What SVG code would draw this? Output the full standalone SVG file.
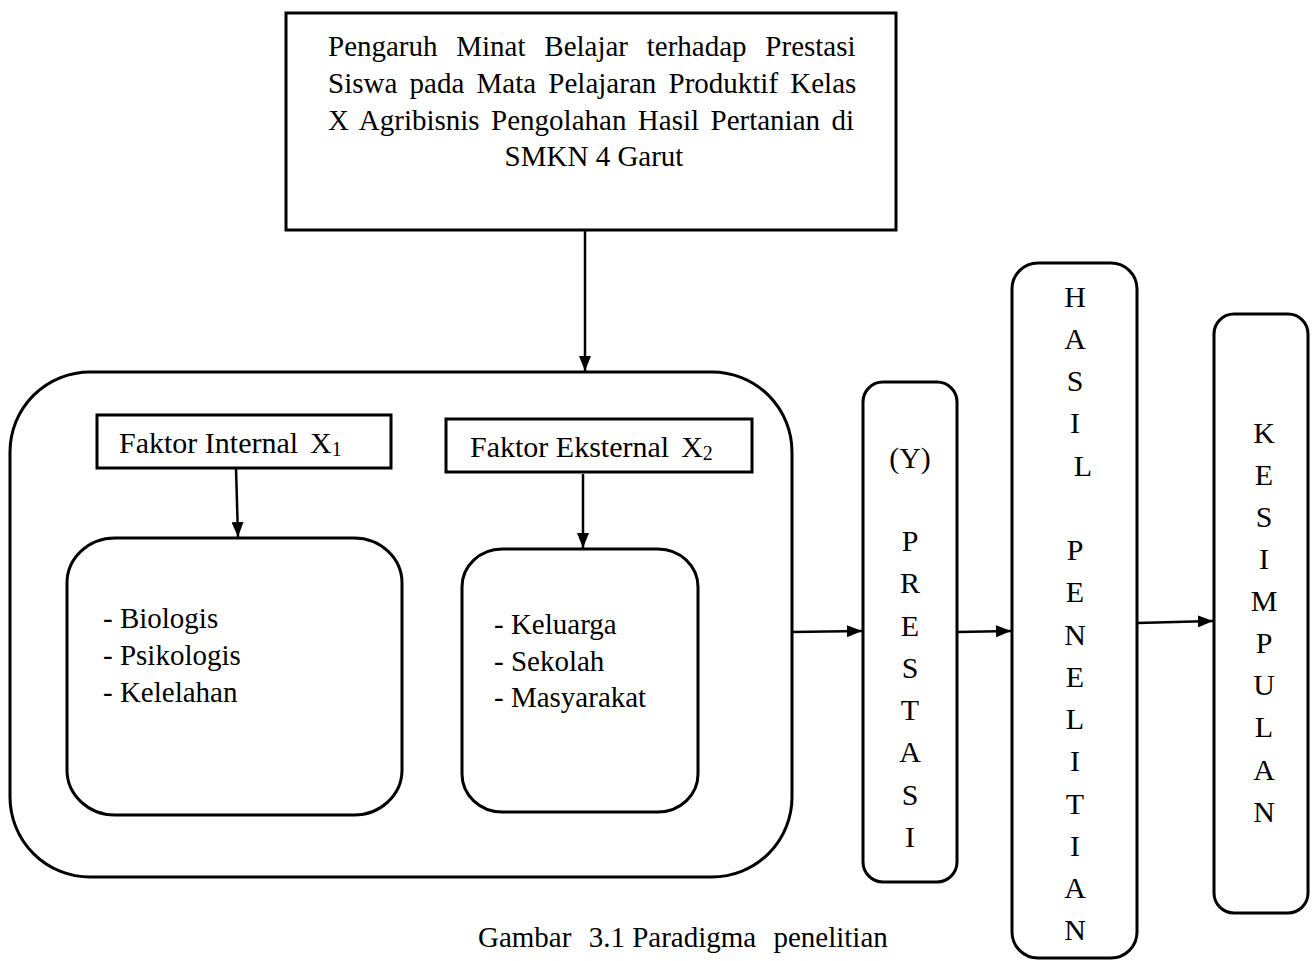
<svg xmlns="http://www.w3.org/2000/svg" width="1312" height="961" viewBox="0 0 1312 961">
<style>
.box{fill:#fff;stroke:#000;stroke-width:3}
.t{font-family:"Liberation Serif","Times New Roman",serif;font-size:29px;fill:#000}
.lbl{font-family:"Liberation Serif","Times New Roman",serif;font-size:30px;fill:#000}
.col{font-family:"Liberation Serif","Times New Roman",serif;font-size:30px;fill:#000;text-anchor:middle}
.conn{stroke:#000;stroke-width:2.5;fill:none;marker-end:url(#ah)}
</style>
<defs>
<marker id="ah" viewBox="0 0 15 12" refX="15" refY="6" markerWidth="15" markerHeight="12" markerUnits="userSpaceOnUse" orient="auto">
<path d="M0,0 L15,6 L0,12 z" fill="#000"/>
</marker>
</defs>
<rect width="1312" height="961" fill="#fff"/>

<g id="judul">
<rect class="box" x="286" y="13" width="610" height="217"/>
<text class="t" x="328" y="56" word-spacing="11.5">Pengaruh Minat Belajar terhadap Prestasi</text>
<text class="t" x="328" y="93" word-spacing="5">Siswa pada Mata Pelajaran Produktif Kelas</text>
<text class="t" x="328" y="130" word-spacing="4.2">X Agribisnis Pengolahan Hasil Pertanian di</text>
<text class="t" x="594" y="166" text-anchor="middle">SMKN 4 Garut</text>
</g>

<g id="variabel-x">
<rect class="box" x="10" y="372" width="782" height="505" rx="80" ry="80"/>
</g>

<g id="faktor-internal">
<rect class="box" x="97" y="415" width="294" height="53"/>
<text class="lbl" x="119" y="453">Faktor Internal<tspan dx="12">X</tspan><tspan font-size="20" dy="3">1</tspan></text>
</g>

<g id="faktor-eksternal">
<rect class="box" x="446" y="419" width="306" height="53"/>
<text class="lbl" x="470" y="457">Faktor Eksternal<tspan dx="12">X</tspan><tspan font-size="20" dy="3">2</tspan></text>
</g>

<g id="indikator-internal">
<rect class="box" x="67" y="538" width="335" height="277" rx="48" ry="45"/>
<text class="t" x="103" y="628">- Biologis</text>
<text class="t" x="103" y="665">- Psikologis</text>
<text class="t" x="103" y="702">- Kelelahan</text>
</g>

<g id="indikator-eksternal">
<rect class="box" x="462" y="549" width="236" height="263" rx="40" ry="38"/>
<text class="t" x="494" y="634">- Keluarga</text>
<text class="t" x="494" y="671">- Sekolah</text>
<text class="t" x="494" y="707">- Masyarakat</text>
</g>

<g id="prestasi">
<rect class="box" x="863" y="382" width="94" height="500" rx="20" ry="20"/>
<text class="col"><tspan x="910" y="468">(Y)</tspan><tspan x="910" y="551">P</tspan><tspan x="910" y="593">R</tspan><tspan x="910" y="636">E</tspan><tspan x="910" y="678">S</tspan><tspan x="910" y="720">T</tspan><tspan x="910" y="762">A</tspan><tspan x="910" y="805">S</tspan><tspan x="910" y="847">I</tspan></text>
</g>

<g id="hasil-penelitian">
<rect class="box" x="1012" y="263" width="125" height="695" rx="26" ry="26"/>
<text class="col"><tspan x="1075" y="307">H</tspan><tspan x="1075" y="349">A</tspan><tspan x="1075" y="391">S</tspan><tspan x="1075" y="433">I</tspan><tspan x="1083" y="476">L</tspan><tspan x="1075" y="560">P</tspan><tspan x="1075" y="602">E</tspan><tspan x="1075" y="645">N</tspan><tspan x="1075" y="687">E</tspan><tspan x="1075" y="729">L</tspan><tspan x="1075" y="771">I</tspan><tspan x="1075" y="814">T</tspan><tspan x="1075" y="856">I</tspan><tspan x="1075" y="898">A</tspan><tspan x="1075" y="940">N</tspan></text>
</g>

<g id="kesimpulan">
<rect class="box" x="1214" y="314" width="94" height="599" rx="20" ry="20"/>
<text class="col"><tspan x="1264" y="443">K</tspan><tspan x="1264" y="485">E</tspan><tspan x="1264" y="527">S</tspan><tspan x="1264" y="569">I</tspan><tspan x="1264" y="611">M</tspan><tspan x="1264" y="653">P</tspan><tspan x="1264" y="695">U</tspan><tspan x="1264" y="737">L</tspan><tspan x="1264" y="780">A</tspan><tspan x="1264" y="822">N</tspan></text>
</g>

<g id="connectors">
<line class="conn" x1="585" y1="230" x2="585" y2="371"/>
<line class="conn" x1="236" y1="468" x2="238" y2="537"/>
<line class="conn" x1="583" y1="474" x2="583" y2="548"/>
<line class="conn" x1="792" y1="632" x2="862" y2="631"/>
<line class="conn" x1="957" y1="632" x2="1011" y2="631"/>
<line class="conn" x1="1137" y1="623" x2="1213" y2="621"/>
</g>

<text class="t" x="478" y="947">Gambar<tspan dx="10"> 3.1 Paradigma</tspan><tspan dx="10"> penelitian</tspan></text>
</svg>
